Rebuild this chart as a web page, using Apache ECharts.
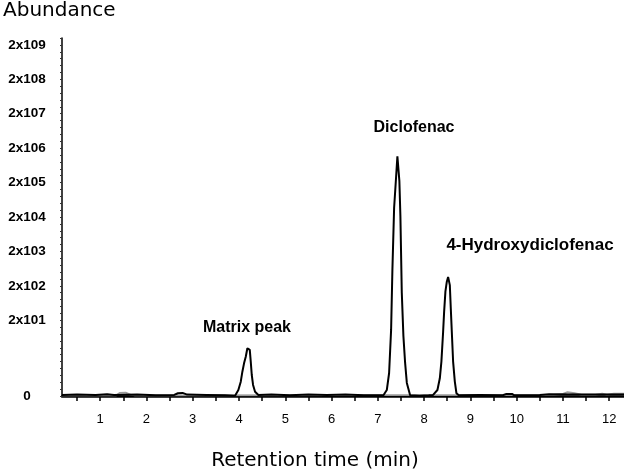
<!DOCTYPE html>
<html>
<head>
<meta charset="utf-8">
<script src="https://cdn.jsdelivr.net/npm/echarts@6/dist/echarts.min.js"></script>
<style>
  html, body { margin: 0; padding: 0; background: #fff; }
  #chart { width: 624px; height: 472px; }
</style>
</head>
<body>
<div id="chart"></div>
<script>
/* Chromatogram: diclofenac and its 4-hydroxy metabolite.
 * The original y axis is not linear, so abundance is kept in "plot units"
 * and the 2x10^n labels are pinned to their unit positions. */

// ── Data ──────────────────────────────────────────────────────
const xTickLabels = [1, 2, 3, 4, 5, 6, 7, 8, 9, 10, 11, 12];
const xMinorTicks = [0.5, 1.5, 2.5, 3.5, 4.5, 5.5, 6.5, 7.5, 8.5, 9.5, 10.5, 11.5];

const yTickValues = [0, 11, 16, 21, 26, 31, 36, 41, 46, 51];
const yTickLabels = ['0', '2x101', '2x102', '2x103', '2x104', '2x105', '2x106', '2x107', '2x108', '2x109'];

// [time (min), abundance (plot units)]
const baselineStart = [[0.175, 0.15], [0.5, 0.2], [0.9, 0.15], [1.15, 0.25], [1.3, 0.15], [1.8, 0.2],
  [2.2, 0.1], [2.6, 0.15], [2.68, 0.4], [2.78, 0.45], [2.88, 0.2], [3.3, 0.15], [3.7, 0.1]];
const matrixPeak = [[3.915, 0.05], [3.986, 0.87], [4.038, 2.08], [4.073, 3.53], [4.109, 4.74],
  [4.146, 5.71], [4.181, 6.93], [4.202, 7.2], [4.233, 6.69], [4.254, 4.99], [4.276, 3.05],
  [4.304, 1.6], [4.347, 0.62], [4.419, 0.15]];
const baselineMid = [[4.7, 0.2], [5.1, 0.1], [5.5, 0.2], [5.9, 0.15], [6.3, 0.2], [6.7, 0.1], [7.0, 0.1]];
const diclofenacPeak = [[7.121, 0.1], [7.194, 0.87], [7.244, 3.34], [7.287, 9.6], [7.315, 18.3],
  [7.352, 27.3], [7.389, 31.2], [7.423, 34.8], [7.445, 34.8], [7.466, 31.2], [7.488, 26.1],
  [7.518, 15.0], [7.553, 8.7], [7.59, 4.8], [7.627, 1.9], [7.698, 0.1]];
const baselineGap = [[7.9, 0.05], [8.1, 0.1]];
const hydroxyPeak = [[8.195, 0.15], [8.288, 0.87], [8.34, 2.57], [8.374, 5.0], [8.411, 9.3],
  [8.433, 12.25], [8.461, 15.2], [8.491, 16.6], [8.519, 17.3], [8.556, 16.1], [8.577, 12.7],
  [8.599, 9.3], [8.627, 5.0], [8.664, 2.1], [8.699, 0.4], [8.75, 0.1]];
const baselineEnd = [[9.2, 0.15], [9.7, 0.1], [9.78, 0.3], [9.9, 0.3], [9.95, 0.1], [10.5, 0.15],
  [10.7, 0.25], [11.4, 0.2], [12.32, 0.2]];

// second (grey) trace, only visible as small bumps on the baseline
const greyTrace = [[0.175, 0.1], [1.35, 0.1], [1.42, 0.45], [1.55, 0.5], [1.65, 0.2], [1.75, 0.1],
  [10.8, 0.15], [11.0, 0.3], [11.1, 0.55], [11.25, 0.4], [11.4, 0.2], [11.7, 0.2], [11.85, 0.35],
  [11.95, 0.2], [12.1, 0.35], [12.32, 0.35]];

const peakLabels = [
  { text: 'Matrix peak', x: 247, y: 328, size: 16 },
  { text: 'Diclofenac', x: 414, y: 128, size: 16 },
  { text: '4-Hydroxydiclofenac', x: 530, y: 245, size: 17 }
];

// ── Chart ─────────────────────────────────────────────────────
const blackTrace = [].concat(baselineStart, matrixPeak, baselineMid, diclofenacPeak,
  baselineGap, hydroxyPeak, baselineEnd);

const chart = echarts.init(document.getElementById('chart'), null, { renderer: 'canvas' });

const titleFont = '"DejaVu Sans", sans-serif';
const labelFont = '"Liberation Sans", Arial, sans-serif';

chart.setOption({
  animation: false,
  backgroundColor: '#fff',
  grid: { left: 62, right: 0, top: 38, bottom: 76 },
  xAxis: {
    type: 'value',
    min: 0.175,
    max: 12.32,
    axisLine: { lineStyle: { color: '#000', width: 2.5 } },
    axisTick: {
      show: true, length: 5, lineStyle: { color: '#000', width: 1.5 },
      customValues: xTickLabels.concat(xMinorTicks)
    },
    axisLabel: {
      customValues: xTickLabels,
      color: '#000', fontFamily: labelFont, fontSize: 13, margin: 17
    },
    splitLine: { show: false }
  },
  yAxis: {
    type: 'value',
    min: 0,
    max: 52,
    interval: 1,
    axisLine: { show: true, lineStyle: { color: '#000', width: 1.5 } },
    axisTick: { show: true, length: 2, lineStyle: { color: '#333', width: 1 } },
    axisLabel: {
      customValues: yTickValues,
      formatter: v => yTickLabels[yTickValues.indexOf(v)] || '',
      color: '#000', fontFamily: labelFont, fontSize: 13.5, fontWeight: 'bold',
      align: 'center', margin: 35
    },
    splitLine: { show: false }
  },
  series: [
    {
      type: 'line', data: greyTrace, showSymbol: false, silent: true,
      lineStyle: { color: '#9a9a9a', width: 1.8 }, z: 1
    },
    {
      type: 'line', data: blackTrace, showSymbol: false, silent: true,
      lineStyle: { color: '#000', width: 2 }, z: 2
    }
  ],
  graphic: [
    {
      type: 'text', left: 3, top: 1,
      style: { text: 'Abundance', font: 'normal 20px ' + titleFont, fill: '#000' }
    },
    {
      type: 'text', x: 315, y: 461,
      style: {
        text: 'Retention time (min)', font: 'normal 20px ' + titleFont, fill: '#000',
        textAlign: 'center', textVerticalAlign: 'middle'
      }
    }
  ].concat(peakLabels.map(p => ({
    type: 'text', x: p.x, y: p.y,
    style: {
      text: p.text, font: 'bold ' + p.size + 'px ' + labelFont, fill: '#000',
      textAlign: 'center', textVerticalAlign: 'middle'
    }
  })))
});
</script>
</body>
</html>
